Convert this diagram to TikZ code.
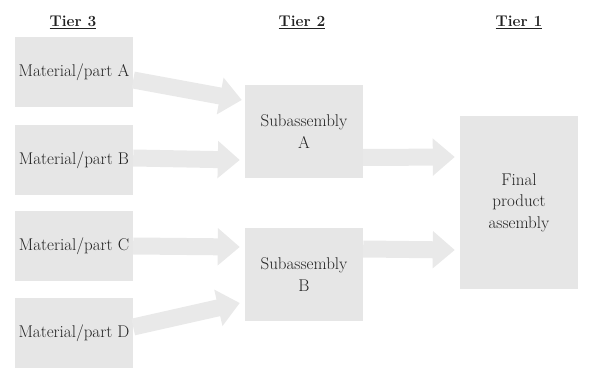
\documentclass[tikz,border=0pt]{standalone}
\usepackage{fontspec}
\setmainfont{Latin Modern Roman}
\usetikzlibrary{arrows.meta,calc}
\definecolor{boxgray}{HTML}{E6E6E6}
\definecolor{arrgray}{HTML}{E9E9E9}
\definecolor{txt}{HTML}{222222}
\begin{document}
\begin{tikzpicture}[x=1pt,y=-1pt,
  box/.style={fill=boxgray,draw=none,inner sep=0pt,align=center,text=txt,font=\fontsize{17}{21.5}\selectfont},
  hdr/.style={text=txt,font=\fontsize{15.5}{18}\selectfont\bfseries,inner sep=0pt},
  flow/.style={draw=arrgray,line width=17pt,-{Triangle[width=36pt,length=22pt]}}]
\useasboundingbox (0,0) rectangle (589,371);
\node[hdr] (t3) at (73,22) {\underline{Tier 3}};
\node[hdr] (t2) at (302,22) {\underline{Tier 2}};
\node[hdr] (t1) at (519,22) {\underline{Tier 1}};
\node[box,minimum width=118pt,minimum height=70pt] (a) at (74,72) {Material/part A};
\node[box,minimum width=118pt,minimum height=70pt] (b) at (74,160) {Material/part B};
\node[box,minimum width=118pt,minimum height=70pt] (c) at (74,246) {Material/part C};
\node[box,minimum width=118pt,minimum height=70pt] (d) at (74,333) {Material/part D};
\node[box,minimum width=118pt,minimum height=93pt] (sa) at (304,131.5) {Subassembly\\A};
\node[box,minimum width=118pt,minimum height=93pt] (sb) at (304,274.5) {Subassembly\\B};
\node[box,minimum width=118pt,minimum height=173pt] (f) at (519,202.5) {Final\\product\\assembly};
\draw[flow] ($(a.east)+(0,8)$) -- ($(sa.west)+(-3,-31.5)$);
\draw[flow] ($(b.east)+(0,-2)$) -- ($(sa.west)+(-5,28.5)$);
\draw[flow] ($(c.east)+(0,0)$) -- ($(sb.west)+(-5,-27.5)$);
\draw[flow] ($(d.east)+(0,-6)$) -- ($(sb.west)+(-5,28.5)$);
\draw[flow] ($(sa.east)+(0,26)$) -- ($(f.west)+(-5,-45.5)$);
\draw[flow] ($(sb.east)+(0,-25.5)$) -- ($(f.west)+(-5,47.5)$);
\end{tikzpicture}
\end{document}
